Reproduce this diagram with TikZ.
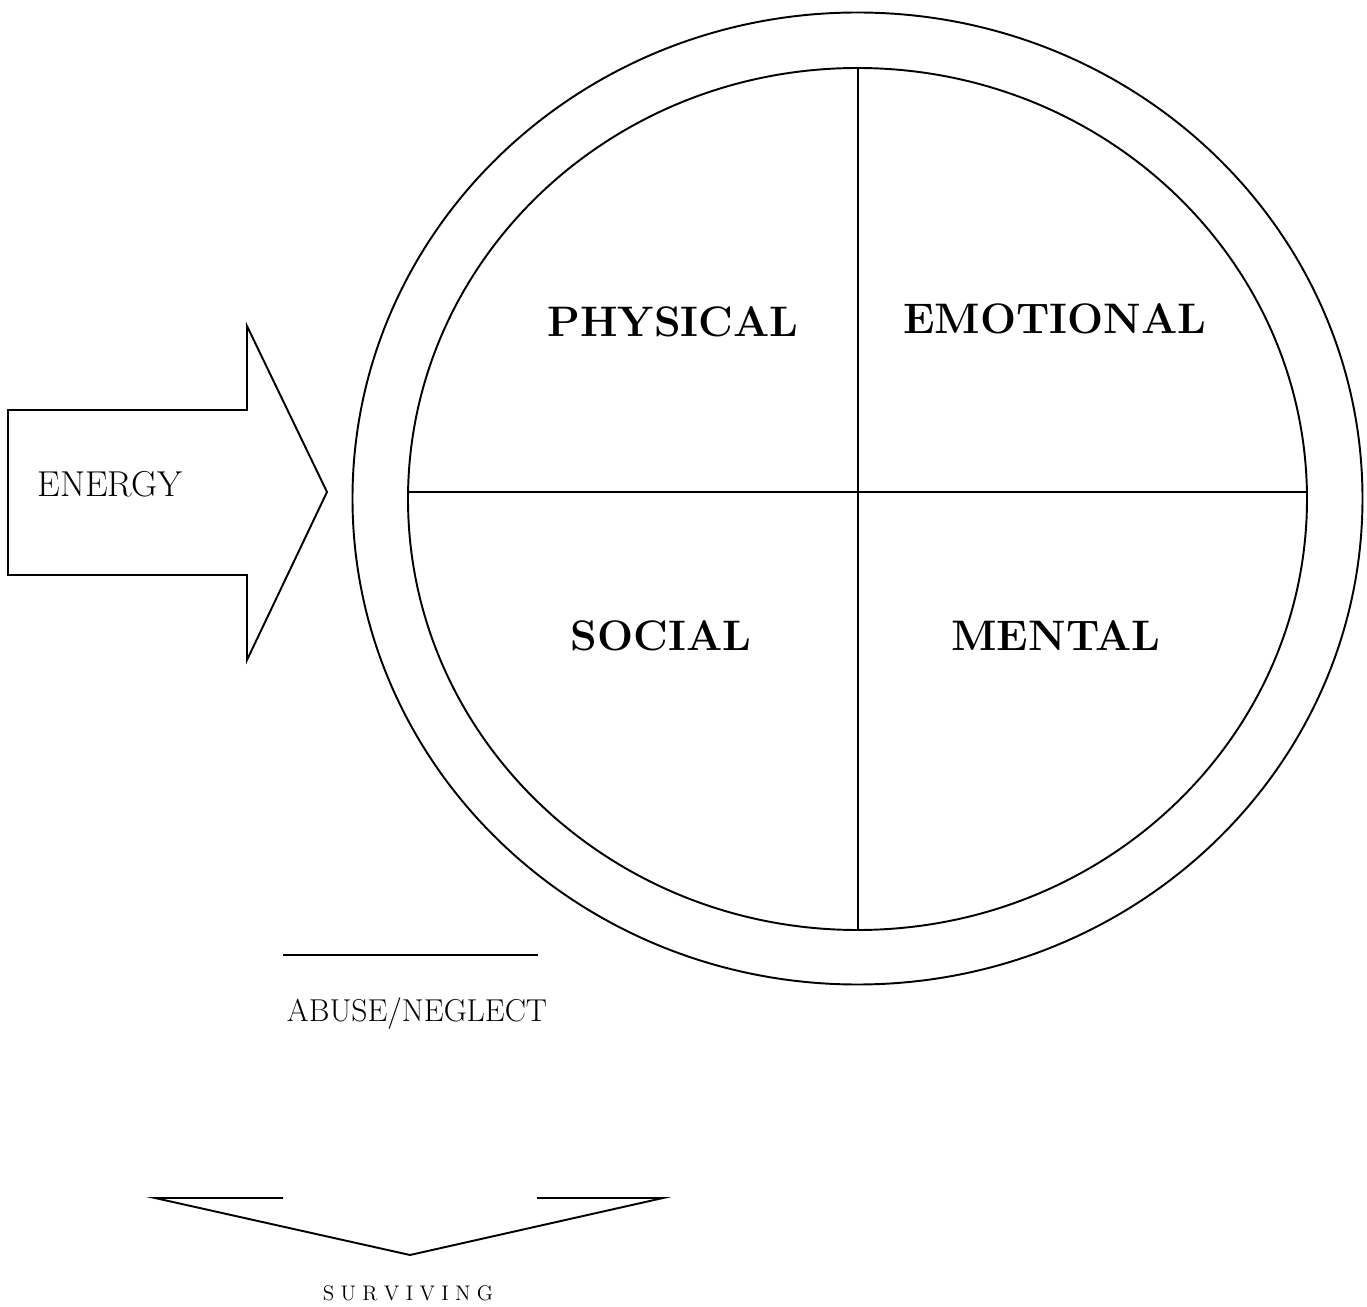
\documentclass[tikz,border=0pt]{standalone}
\usepackage{fontspec}

\newcommand\sgap{\kern0.3em}

\begin{document}
\begin{tikzpicture}[x=0.02cm, y=-0.02cm, line width=1.1pt,
                    quad label/.style={font=\fontsize{24.3}{28}\selectfont\bfseries},
                    energy label/.style={font=\fontsize{20.5}{24}\selectfont},
                    small label/.style={font=\fontsize{18}{21}\selectfont},
                    spaced label/.style={font=\fontsize{12}{14}\selectfont}]

  \useasboundingbox (0,0) rectangle (1367,1307);

  % the wheel
  \draw (857.5,498.5) ellipse [x radius=505, y radius=486];
  \draw (857.5,499) ellipse [x radius=449.5, y radius=431];
  \coordinate (top) at (858,68);
  \coordinate (bottom) at (858,930);
  \coordinate (left) at (409,492);
  \coordinate (right) at (1307,492);
  \draw (top) -- (bottom);
  \draw (left) -- (right);

  \node[quad label] (physical) at (673,322) {PHYSICAL};
  \node[quad label] (emotional) at (1055,319) {EMOTIONAL};
  \node[quad label] (social) at (661,636) {SOCIAL};
  \node[quad label] (mental) at (1056,636) {MENTAL};

  % energy arrow
  \draw (8,410) -- (247,410) -- (247,326) -- (327,492) -- (247,660)
        -- (247,575) -- (8,575) -- cycle;
  \node[energy label] (energy) at (110,484) {ENERGY};

  % abuse / neglect
  \coordinate (lineA) at (283,955);
  \coordinate (lineB) at (538,955);
  \draw (lineA) -- (lineB);
  \node[small label] (abuse) at (417,1014) {ABUSE/NEGLECT};

  % surviving arrow
  \coordinate (vl) at (155,1198);
  \coordinate (vlin) at (283,1198);
  \coordinate (vr) at (663,1198);
  \coordinate (vrin) at (537,1198);
  \coordinate (tip) at (410,1255);
  \draw (vlin) -- (vl) -- (tip) -- (vr) -- (vrin);
  \node[spaced label] (surviving) at (408,1293)
    {S\sgap U\sgap R\sgap V\sgap I\sgap V\sgap I\sgap N\sgap G};

\end{tikzpicture}
\end{document}
